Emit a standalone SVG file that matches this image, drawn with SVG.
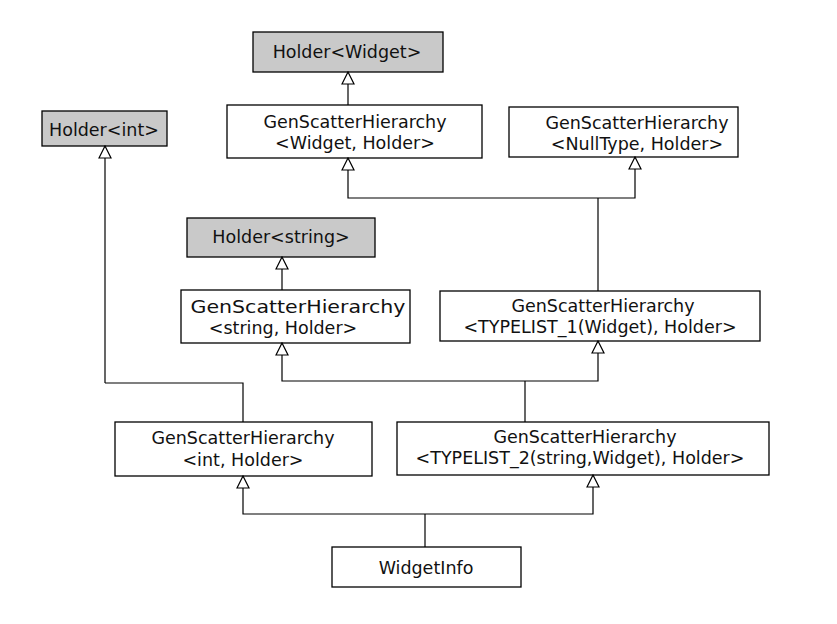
<svg xmlns="http://www.w3.org/2000/svg" width="837" height="624" viewBox="0 0 837 624">
<defs>
<marker id="tri" viewBox="0 0 14 14" markerWidth="14" markerHeight="14" refX="13" refY="7" orient="auto" markerUnits="userSpaceOnUse">
<path d="M1,1 L13,7 L1,13 Z" fill="#fff" stroke="#000" stroke-width="1.2"/>
</marker>
</defs>
<style>
.box{fill:#fff;stroke:#000;stroke-width:1.3}
.gray{fill:#c9c9c9;stroke:#000;stroke-width:1.3}
.t{font-family:"DejaVu Sans",Verdana,sans-serif;font-size:17.5px;fill:#111;text-anchor:middle}
.c{fill:none;stroke:#000;stroke-width:1.2}
</style>
<rect width="837" height="624" fill="#fff"/>
<g id="holder-widget"><rect class="gray" x="253" y="32" width="190" height="40"/><text class="t" x="347" y="58">Holder&lt;Widget&gt;</text></g>
<g id="holder-int"><rect class="gray" x="42" y="111" width="125" height="35"/><text class="t" x="104" y="136">Holder&lt;int&gt;</text></g>
<g id="gsh-widget"><rect class="box" x="227" y="105" width="255" height="53"/><text class="t" x="355" y="128">GenScatterHierarchy</text><text class="t" x="355" y="149">&lt;Widget, Holder&gt;</text></g>
<g id="gsh-null"><rect class="box" x="509" y="107" width="229" height="50"/><text class="t" x="637" y="129">GenScatterHierarchy</text><text class="t" x="637" y="150">&lt;NullType, Holder&gt;</text></g>
<g id="holder-string"><rect class="gray" x="187" y="218" width="188" height="39"/><text class="t" x="281" y="243">Holder&lt;string&gt;</text></g>
<g id="gsh-string"><rect class="box" x="181" y="290" width="229" height="53"/><text class="t" x="298" y="313" textLength="215" lengthAdjust="spacingAndGlyphs">GenScatterHierarchy</text><text class="t" x="283" y="334">&lt;string, Holder&gt;</text></g>
<g id="gsh-tl1"><rect class="box" x="440" y="291" width="320" height="50"/><text class="t" x="603" y="312">GenScatterHierarchy</text><text class="t" x="600" y="333">&lt;TYPELIST_1(Widget), Holder&gt;</text></g>
<g id="gsh-int"><rect class="box" x="115" y="422" width="257" height="54"/><text class="t" x="243" y="444">GenScatterHierarchy</text><text class="t" x="243" y="466">&lt;int, Holder&gt;</text></g>
<g id="gsh-tl2"><rect class="box" x="397" y="422" width="372" height="53"/><text class="t" x="585" y="443">GenScatterHierarchy</text><text class="t" x="580" y="464">&lt;TYPELIST_2(string,Widget), Holder&gt;</text></g>
<g id="widgetinfo"><rect class="box" x="332" y="547" width="189" height="40"/><text class="t" x="426" y="574">WidgetInfo</text></g>
<g id="connectors">
<path class="c" d="M348,105 V72" marker-end="url(#tri)"/>
<path class="c" d="M105,383 H243 V422"/>
<path class="c" d="M105,383 V146" marker-end="url(#tri)"/>
<path class="c" d="M598,198 H348 V158" marker-end="url(#tri)"/>
<path class="c" d="M598,198 H635 V157" marker-end="url(#tri)"/>
<path class="c" d="M598,198 V291"/>
<path class="c" d="M282,290 V257" marker-end="url(#tri)"/>
<path class="c" d="M525,381 H282 V343" marker-end="url(#tri)"/>
<path class="c" d="M525,381 H598 V341" marker-end="url(#tri)"/>
<path class="c" d="M525,381 V422"/>
<path class="c" d="M425,514 H243 V476" marker-end="url(#tri)"/>
<path class="c" d="M425,514 H593 V475" marker-end="url(#tri)"/>
<path class="c" d="M425,514 V547"/>
</g>
</svg>
